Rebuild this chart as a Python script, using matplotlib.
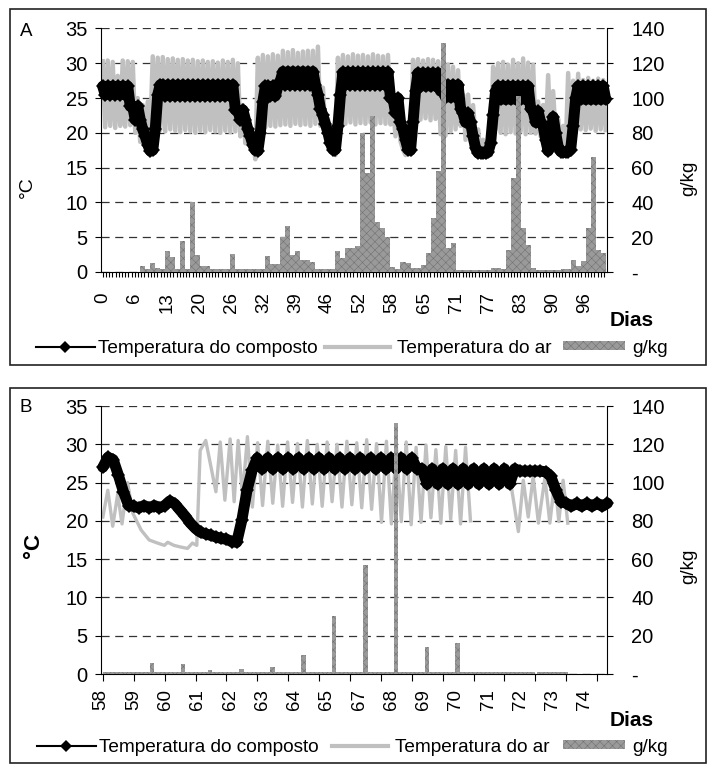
import numpy as np
import matplotlib
matplotlib.use("Agg")
import matplotlib.pyplot as plt
from matplotlib.lines import Line2D
from matplotlib.patches import Patch, Rectangle

plt.rcParams['font.family'] = ['Liberation Sans', 'DejaVu Sans']
plt.rcParams['hatch.linewidth'] = 0.35

# ---------------- panel A: two readings per day (days 0..100) ----------------
days_a = np.arange(101)

composto_a_am = [26.7, 26.7, 26.7, 26.7, 26.7, 26.7, 23.8, 23.8, 20.5, 18.3,
                 17.5, 25.5, 26.9, 26.9, 26.9, 26.9, 26.9, 26.9, 26.9, 26.9,
                 26.9, 26.9, 26.9, 26.9, 26.9, 26.9, 26.9, 23.3, 23.3, 20.5,
                 18.3, 17.4, 24.5, 26.7, 26.7, 26.7, 28.8, 28.8, 28.8, 28.8,
                 28.8, 28.8, 28.8, 25.5, 22.5, 20.0, 17.6, 21.0, 28.7, 28.7,
                 28.7, 28.7, 28.7, 28.7, 28.7, 28.7, 28.7, 28.7, 25.0, 25.0,
                 20.5, 17.6, 21.5, 28.6, 28.6, 28.6, 28.6, 28.6, 26.9, 26.9,
                 26.9, 26.9, 22.8, 22.8, 19.5, 17.1, 17.1, 17.2, 22.5, 26.7,
                 26.7, 26.7, 26.7, 26.7, 26.7, 26.7, 23.1, 23.1, 21.0, 17.4,
                 22.3, 18.0, 17.2, 17.3, 21.0, 26.7, 26.7, 26.7, 26.7, 26.7,
                 26.7]
composto_a_pm = [25.5, 25.5, 25.5, 25.5, 25.5, 23.8, 21.9, 21.9, 19.5, 17.4,
                 20.5, 26.9, 25.3, 25.3, 25.3, 25.3, 25.3, 25.3, 25.3, 25.3,
                 25.3, 25.3, 25.3, 25.3, 25.3, 25.3, 23.3, 21.9, 21.9, 19.5,
                 17.5, 20.0, 26.7, 25.3, 25.3, 27.5, 26.9, 26.9, 26.9, 26.9,
                 26.9, 26.9, 26.9, 23.5, 21.3, 18.5, 17.6, 25.5, 26.9, 26.9,
                 26.9, 26.9, 26.9, 26.9, 26.9, 26.9, 26.9, 25.0, 22.9, 21.5,
                 19.0, 17.5, 26.0, 26.7, 26.7, 26.7, 26.7, 26.0, 25.1, 25.1,
                 25.1, 23.5, 21.5, 21.5, 17.8, 17.1, 17.1, 18.5, 26.0, 24.8,
                 24.8, 24.8, 24.8, 24.8, 24.8, 23.5, 21.5, 21.5, 19.0, 19.5,
                 20.0, 17.3, 17.2, 17.6, 25.0, 24.8, 24.8, 24.8, 24.8, 24.8,
                 24.8]

ar_a_am = [30.3, 30.4, 30.2, 28.2, 30.4, 30.3, 30.2, 25.0, 24.0, 24.5,
           31.0, 30.8, 30.9, 30.6, 30.7, 30.5, 30.6, 30.4, 30.5, 30.3,
           30.4, 30.2, 30.3, 30.1, 30.4, 30.2, 30.5, 30.0, 24.0, 22.5,
           19.0, 30.8, 31.2, 31.0, 31.3, 31.1, 31.8, 31.6, 31.9, 31.5,
           31.7, 31.8, 31.8, 32.4, 26.5, 22.0, 19.5, 30.8, 31.2, 31.0,
           31.3, 31.1, 31.2, 31.0, 31.3, 31.1, 31.0, 31.2, 24.0, 24.5,
           17.6, 17.5, 30.5, 30.6, 30.4, 30.6, 30.5, 30.3, 30.4, 29.8,
           29.5, 29.0, 25.5, 25.5, 24.0, 20.5, 19.0, 19.0, 29.5, 30.0,
           30.2, 29.8, 30.5, 30.0, 30.7, 30.1, 29.8, 24.5, 24.0, 28.3,
           26.0, 22.0, 21.0, 28.6, 27.5, 28.5, 27.6, 27.9, 27.5, 27.8,
           27.6]
ar_a_pm = [20.8, 21.0, 20.7, 21.0, 20.9, 21.1, 20.0, 18.7, 19.5, 20.0,
           20.3, 20.4, 20.2, 20.5, 20.3, 20.1, 20.4, 20.2, 20.0, 20.3,
           20.1, 20.4, 20.2, 20.0, 20.3, 20.1, 20.2, 19.5, 18.5, 18.5,
           16.2, 21.0, 20.8, 21.0, 20.9, 21.1, 21.2, 21.0, 21.3, 21.1,
           21.2, 21.0, 21.3, 21.0, 20.5, 18.0, 16.8, 21.5, 21.3, 21.5,
           21.2, 21.4, 21.3, 21.5, 21.2, 21.4, 21.3, 21.2, 19.5, 18.8,
           16.8, 16.9, 22.0, 21.9, 22.1, 21.8, 22.0, 19.8, 19.6, 20.2,
           20.5, 21.0, 19.0, 18.8, 19.0, 16.8, 16.5, 16.8, 20.5, 20.0,
           19.8, 20.1, 19.9, 20.2, 19.8, 20.0, 19.9, 19.5, 19.5, 19.0,
           19.5, 18.2, 17.5, 19.5, 20.5, 20.5, 20.4, 20.6, 20.3, 20.5,
           20.4]

gkg_a = [0.0, 0.0, 0.0, 0.0, 0.0, 0.0, 0.0, 0.0, 3.5, 1.5,
         5.4, 2.5, 1.5, 12.1, 8.8, 1.5, 18.0, 1.5, 40.3, 9.8,
         3.5, 3.5, 1.5, 1.5, 1.5, 1.5, 10.4, 1.5, 1.5, 1.5,
         1.5, 1.5, 1.5, 9.2, 4.6, 4.6, 20.0, 26.5, 9.8, 12.3,
         6.9, 6.9, 5.9, 1.5, 1.5, 1.5, 1.5, 12.3, 8.3, 13.6,
         13.6, 15.0, 80.0, 57.0, 89.5, 29.0, 25.2, 20.4, 2.7, 1.5,
         5.5, 5.0, 2.1, 2.1, 4.0, 10.7, 30.9, 57.8, 131.7, 13.6,
         16.5, 1.2, 1.2, 1.2, 1.2, 1.2, 1.2, 1.2, 2.5, 2.5,
         1.5, 12.7, 54.0, 101.4, 25.2, 15.6, 2.5, 1.3, 1.3, 1.3,
         1.3, 1.3, 2.0, 2.0, 6.9, 3.7, 6.4, 25.2, 66.0, 12.7,
         10.7]

labels_a = ['0', '6', '13', '20', '26', '32', '39', '46', '52', '58',
            '65', '71', '77', '83', '90', '96']

# ---------------- panel B: days 58-74, composto every 4 h ----------------
composto_b_t0 = 58.0
composto_b = [27.0, 28.3, 28.0, 26.0, 23.8, 22.0, 21.9, 21.7, 22.0, 21.7,
              22.0, 21.7, 22.0, 22.6, 22.2, 21.4, 20.6, 19.7, 19.0, 18.5,
              18.3, 18.1, 17.9, 17.7, 17.6, 17.3, 17.2, 20.1, 24.0, 26.6,
              28.2, 26.8, 28.2, 26.8, 28.2, 26.8, 28.2, 26.8, 28.2, 26.8,
              28.2, 26.8, 28.2, 26.8, 28.2, 26.8, 28.2, 26.8, 28.2, 26.8,
              28.2, 26.8, 28.2, 26.8, 28.2, 26.8, 28.2, 26.8, 28.2, 26.8,
              28.2, 26.8, 26.8, 24.8, 26.8, 24.8, 26.8, 24.8, 26.8, 24.8,
              26.8, 24.8, 26.8, 24.8, 26.8, 24.8, 26.8, 24.8, 26.8, 24.8,
              26.8, 26.5, 26.5, 26.5, 26.5, 26.5, 26.4, 25.8, 24.0, 22.5,
              22.3, 21.9, 22.3, 21.9, 22.3, 21.9, 22.3, 21.9, 22.3]

ar_b_days = [58.00, 58.16, 58.32, 58.48, 58.62, 58.80, 58.97, 59.24, 59.50, 59.77,
             59.99, 60.10, 60.30, 60.50, 60.74, 60.90, 61.04, 61.15, 61.33, 61.66,
             61.80, 61.95, 62.12, 62.25, 62.38, 62.52, 62.68, 62.84, 63.01, 63.17,
             63.34, 63.50, 63.66, 63.82, 63.98, 64.14, 64.30, 64.46, 64.62, 64.78,
             64.94, 65.10, 65.26, 65.42, 65.58, 65.74, 65.90, 66.06, 66.22, 66.38,
             66.54, 66.70, 66.86, 67.02, 67.18, 67.34, 67.50, 67.66, 67.82, 67.98,
             68.14, 68.30, 68.46, 68.62, 68.78, 68.94, 69.10, 69.26, 69.42, 69.58,
             69.74, 69.90, 70.50, 71.19, 71.45, 71.61, 71.77, 71.93, 72.10, 72.31,
             72.47, 72.63, 72.76, 72.90, 73.05]
ar_b = [20.5, 24.0, 19.3, 23.5, 19.6, 25.0, 21.0, 18.8, 17.5, 17.1,
        16.8, 17.2, 16.8, 16.6, 16.4, 17.1, 16.8, 29.2, 30.5, 23.8,
        30.3, 22.7, 30.7, 22.5, 30.5, 23.2, 31.0, 21.8, 30.2, 22.0,
        30.4, 22.3, 29.9, 21.9, 30.3, 22.4, 30.1, 21.8, 30.5, 22.2,
        30.0, 21.9, 30.3, 22.5, 30.0, 21.8, 30.4, 22.1, 30.2, 21.7,
        30.6, 21.5, 30.1, 19.8, 30.4, 19.6, 29.8, 19.9, 30.3, 19.5,
        29.6, 19.8, 29.9, 20.4, 29.3, 19.7, 29.7, 20.2, 29.2, 19.6,
        29.6, 20.0, np.nan, 25.3, 18.6, 25.3, 20.5, 25.8, 19.7, 25.6,
        19.7, 25.3, 19.9, 25.3, 19.7]

gkg_b_days = [59.59, 60.60, 61.47, 62.49, 63.49, 64.49, 65.48, 66.50, 67.49, 68.49, 69.49]
gkg_b = [5.6, 5.1, 2.1, 2.4, 3.5, 9.9, 30.3, 57.0, 131.0, 14.3, 16.4]
gkg_b_base_days = [58.5, 59.5, 60.5, 61.5, 62.5, 63.5, 64.5, 65.5, 66.5, 67.5,
                   68.5, 69.5, 70.5, 71.5, 72.55]
gkg_b_base = [0.9, 0.9, 0.9, 0.9, 0.9, 0.9, 0.9, 0.9, 0.9, 0.9,
              0.9, 0.8, 0.9, 0.8, 0.8]

labels_b = ['58', '59', '60', '61', '62', '63', '64', '65', '67', '68',
            '69', '70', '71', '72', '73', '74']

# ---------------- styles ----------------
BLACK = '#000000'
AIR = '#c0c0c0'
BAR_FC = '#9a9a9a'
BAR_EC = '#6e6e6e'
BAR_HATCH = 'xxxx'
GRID = '#333333'
W, H = 715, 772
FS = 13.5

fig = plt.figure(figsize=(W / 100, H / 100), dpi=100)


def fx(px):
    return px / W


def fy(py):
    return 1 - py / H


def style_axes(ax, ax2):
    ax.set_ylim(0, 35)
    ax.set_yticks(range(0, 36, 5))
    ax2.set_ylim(0, 140)
    ax2.set_yticks(range(0, 141, 20))
    ax2.set_yticklabels(['-', '20', '40', '60', '80', '100', '120', '140'])
    ax.yaxis.grid(True, linestyle=(0, (6.5, 4.5)), color=GRID, lw=0.9)
    ax.set_axisbelow(True)
    for a in (ax, ax2):
        a.spines['top'].set_visible(False)
    ax.spines['right'].set_visible(False)
    ax2.spines['left'].set_visible(False)
    ax2.spines['bottom'].set_visible(False)
    ax.tick_params(axis='y', direction='out', length=4.5, width=0.8, pad=5,
                   labelsize=14.5)
    ax2.tick_params(axis='y', direction='out', length=4.5, width=0.8, pad=13,
                    labelsize=14.5)
    for lab in ax2.get_yticklabels():
        lab.set_horizontalalignment('left')


def draw_bars(ax2, x, h, width):
    ax2.bar(x, h, width=width, color=BAR_FC, edgecolor=BAR_EC, hatch=BAR_HATCH,
            linewidth=0, align='center', zorder=3)


def plot_composto(ax, x, y):
    ax.plot(x, y, color=BLACK, lw=7.9, marker='D', ms=7.2, mew=0,
            solid_joinstyle='round', solid_capstyle='round', clip_on=False,
            zorder=3)


LEG_HANDLES = {
    'Temperatura do composto': Line2D([], [], color=BLACK, lw=1.5, marker='D',
                                      ms=6.5, mew=0),
    'Temperatura do ar': Line2D([], [], color=AIR, lw=3),
    'g/kg': Patch(facecolor=BAR_FC, edgecolor=BAR_EC, hatch=BAR_HATCH, lw=0),
}


def add_legend(y_px, entries):
    # one legend per entry so each sits where it is in the original
    for name, x_px, hlen, tpad in entries:
        fig.legend([LEG_HANDLES[name]], [name], loc='center left',
                   bbox_to_anchor=(fx(x_px), fy(y_px)), frameon=False,
                   fontsize=13.7, handlelength=hlen, handletextpad=tpad,
                   borderpad=0, borderaxespad=0, handleheight=0.3)


# ================= panel A =================
axA = fig.add_axes([fx(101), fy(272), fx(606.7 - 101), (272 - 28.5) / H])
axA2 = axA.twinx()
style_axes(axA, axA2)

half_x = np.column_stack([days_a, days_a + 0.5]).ravel()
axA.plot(half_x, np.column_stack([ar_a_am, ar_a_pm]).ravel(), color=AIR,
         lw=3.2, solid_joinstyle='round', zorder=2)
plot_composto(axA, half_x, np.column_stack([composto_a_am, composto_a_pm]).ravel())
draw_bars(axA2, days_a, gkg_a, 1.0)

axA.set_xlim(-0.34, 100.7)
label_step_a = 6.42
axA.set_xticks(np.arange(len(labels_a)) * label_step_a)
axA.set_xticklabels(labels_a, rotation=90)
axA.set_xticks(np.arange(0, 100.7, label_step_a / 10), minor=True)
axA.tick_params(axis='x', which='both', direction='out', length=3.5,
                width=0.8, labelsize=FS)
axA.tick_params(axis='x', which='major', pad=11)

# ================= panel B =================
axB = fig.add_axes([fx(101), fy(674), fx(606.7 - 101), (674 - 406) / H])
axB2 = axB.twinx()
style_axes(axB, axB2)

comp_b_x = composto_b_t0 + np.arange(len(composto_b)) / 6
axB.plot(ar_b_days, ar_b, color=AIR, lw=2.4, solid_joinstyle='round', zorder=2)
plot_composto(axB, comp_b_x, composto_b)
draw_bars(axB2, gkg_b_base_days, gkg_b_base, 1.0)
draw_bars(axB2, gkg_b_days, gkg_b, 0.15)

axB.set_xlim(57.98, 74.31)
axB.set_xticks(np.arange(58, 75))
axB.set_xticklabels([])
label_step_b = 1.044
axB.set_xticks(57.94 + np.arange(len(labels_b)) * label_step_b, minor=True)
axB.set_xticklabels(labels_b, minor=True, rotation=90)
axB.tick_params(axis='x', which='major', direction='out', length=5, width=0.8)
axB.tick_params(axis='x', which='minor', length=0, pad=11, labelsize=FS)

# ================= texts, legends, frames =================
fig.text(fx(26.5), fy(32), 'A', ha='center', va='center', fontsize=13.5)
fig.text(fx(26), fy(408), 'B', ha='center', va='center', fontsize=13.5)
fig.text(fx(27), fy(187), '°C', ha='center', va='center', rotation=90,
         fontsize=14)
fig.text(fx(34), fy(545), '°C', ha='center', va='center', rotation=90,
         fontsize=16, fontweight='bold')
fig.text(fx(689), fy(178), 'g/kg', ha='center', va='center', rotation=90,
         fontsize=13.5)
fig.text(fx(689), fy(566), 'g/kg', ha='center', va='center', rotation=90,
         fontsize=13.5)
fig.text(fx(632), fy(321), 'Dias', ha='center', va='center', fontsize=15,
         fontweight='bold')
fig.text(fx(632), fy(721), 'Dias', ha='center', va='center', fontsize=15,
         fontweight='bold')

add_legend(348, [('Temperatura do composto', 36, 3.1, 0.15),
                 ('Temperatura do ar', 325, 3.4, 0.4),
                 ('g/kg', 563, 3.25, 0.37)])
add_legend(747, [('Temperatura do composto', 37, 3.1, 0.15),
                 ('Temperatura do ar', 332, 2.95, 0.35),
                 ('g/kg', 563, 3.25, 0.37)])

for top, bottom in [(9.3, 365), (388.3, 763)]:
    fig.patches.append(Rectangle((fx(10), fy(bottom)), fx(706 - 10),
                                 (bottom - top) / H, transform=fig.transFigure,
                                 fill=False, lw=1.2, edgecolor='#222222'))

fig.savefig('out.png', dpi=100)
